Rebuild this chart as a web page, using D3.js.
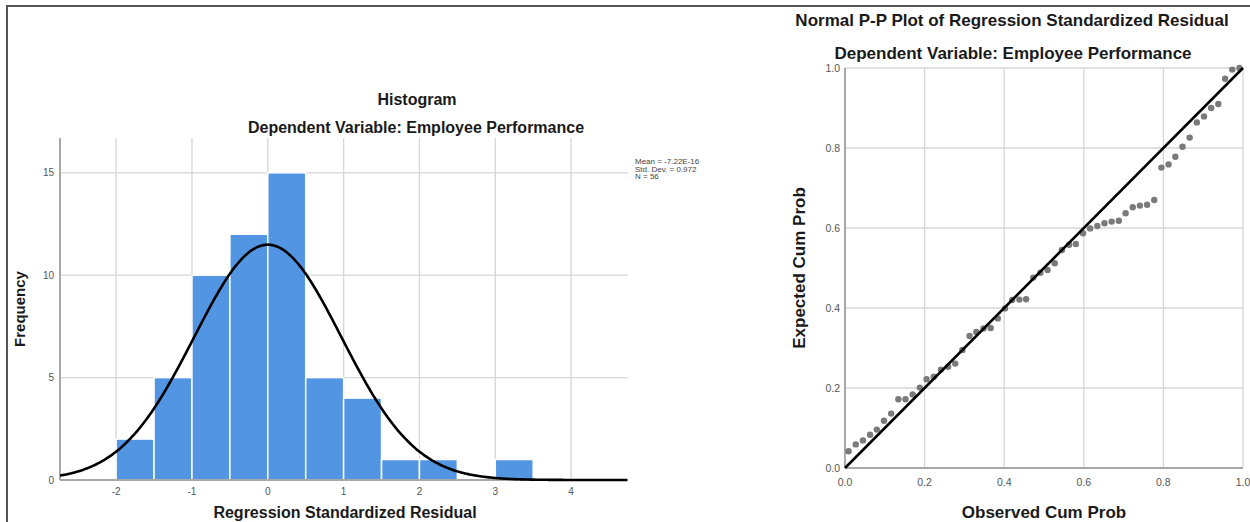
<!DOCTYPE html>
<html>
<head>
<meta charset="utf-8">
<script src="https://cdn.jsdelivr.net/npm/d3@7"></script>
<style>
  body { margin: 0; background: #fff; }
  svg { display: block; font-family: Arial, "Liberation Sans", sans-serif; }
</style>
</head>
<body>
<div id="chart"></div>
<script>
// histogram bins (width 0.5)
var binStarts = [-2, -1.5, -1, -0.5, 0, 0.5, 1, 1.5, 2, 3];
var binCounts = [2, 5, 10, 12, 15, 5, 4, 1, 1, 1];
var binWidth = 0.5;
var residMean = -7.22e-16;
var residSd = 0.972;
var residN = 56;
var histXTicks = [-2, -1, 0, 1, 2, 3, 4];
var histYTicks = [0, 5, 10, 15];
var statLines = ["Mean = -7.22E-16", "Std. Dev. = 0.972", "N = 56"];

// P-P plot points
var ppObserved = [0.009, 0.027, 0.045, 0.063, 0.080, 0.098, 0.116, 0.134, 0.152, 0.170,
                  0.188, 0.205, 0.223, 0.241, 0.259, 0.277, 0.295, 0.313, 0.330, 0.348,
                  0.366, 0.384, 0.402, 0.420, 0.438, 0.455, 0.473, 0.491, 0.509, 0.527,
                  0.545, 0.563, 0.580, 0.598, 0.616, 0.634, 0.652, 0.670, 0.688, 0.705,
                  0.723, 0.741, 0.759, 0.777, 0.795, 0.813, 0.830, 0.848, 0.866, 0.884,
                  0.902, 0.920, 0.938, 0.955, 0.973, 0.991];
var ppExpected = [0.042, 0.059, 0.069, 0.083, 0.096, 0.118, 0.136, 0.172, 0.172, 0.184,
                  0.201, 0.222, 0.228, 0.246, 0.253, 0.261, 0.295, 0.330, 0.340, 0.349,
                  0.350, 0.374, 0.399, 0.420, 0.421, 0.422, 0.476, 0.488, 0.495, 0.512,
                  0.545, 0.558, 0.560, 0.587, 0.599, 0.605, 0.612, 0.616, 0.618, 0.637,
                  0.652, 0.656, 0.658, 0.670, 0.751, 0.759, 0.778, 0.803, 0.826, 0.864,
                  0.879, 0.900, 0.910, 0.973, 0.996, 1.000];
var ppTicks = [0, 0.2, 0.4, 0.6, 0.8, 1.0];

var width = 1250, height = 522;
var GRID = '#d6d6d6', AXIS = '#a8a8a8', TICK = '#555', TITLE = '#1a1a1a';

var svg = d3.select('#chart').append('svg')
    .attr('width', width)
    .attr('height', height);

// outer frame (top + left edge)
svg.append('path')
    .attr('d', 'M7,' + height + 'V6H' + width)
    .attr('fill', 'none')
    .attr('stroke', '#555')
    .attr('stroke-width', 2);

// ---------- Histogram ----------
var hx = d3.scaleLinear().domain([-2.74, 4.75]).range([60, 628]);
var hy = d3.scaleLinear().domain([0, 16.7]).range([480, 138]);
var hist = svg.append('g');

hist.selectAll('.vgrid').data(histXTicks).enter().append('line')
    .attr('x1', d => hx(d)).attr('x2', d => hx(d))
    .attr('y1', hy.range()[1]).attr('y2', hy(0))
    .attr('stroke', GRID).attr('stroke-width', 1.3);
hist.selectAll('.hgrid').data(histYTicks.slice(1)).enter().append('line')
    .attr('x1', hx.range()[0]).attr('x2', hx.range()[1])
    .attr('y1', d => hy(d)).attr('y2', d => hy(d))
    .attr('stroke', GRID).attr('stroke-width', 1.3);

hist.selectAll('rect').data(binStarts).enter().append('rect')
    .attr('x', d => hx(d))
    .attr('y', (d, i) => hy(binCounts[i]))
    .attr('width', d => hx(d + binWidth) - hx(d))
    .attr('height', (d, i) => hy(0) - hy(binCounts[i]))
    .attr('fill', '#5295e3')
    .attr('stroke', '#fff')
    .attr('stroke-width', 1.5);

// axes lines
hist.append('line')
    .attr('x1', hx.range()[0]).attr('x2', hx.range()[0])
    .attr('y1', hy.range()[1]).attr('y2', hy(0))
    .attr('stroke', AXIS).attr('stroke-width', 2);
hist.append('line')
    .attr('x1', hx.range()[0]).attr('x2', hx.range()[1])
    .attr('y1', hy(0)).attr('y2', hy(0))
    .attr('stroke', AXIS).attr('stroke-width', 2);

// normal curve from the reported mean / sd / N
var curvePts = d3.range(hx.domain()[0], hx.domain()[1] + 0.001, 0.02);
var normLine = d3.line()
    .x(d => hx(d))
    .y(d => hy(residN * binWidth * Math.exp(-0.5 * Math.pow((d - residMean) / residSd, 2)) / (residSd * Math.sqrt(2 * Math.PI))))
    .curve(d3.curveBasis);
hist.append('path')
    .attr('d', normLine(curvePts))
    .attr('fill', 'none')
    .attr('stroke', '#000')
    .attr('stroke-width', 2.6);

hist.selectAll('.xt').data(histXTicks).enter().append('text')
    .attr('x', d => hx(d)).attr('y', 495)
    .attr('text-anchor', 'middle')
    .attr('font-size', 10).attr('fill', TICK)
    .text(d => d);
hist.selectAll('.yt').data(histYTicks).enter().append('text')
    .attr('x', 54).attr('y', d => hy(d) + 3.5)
    .attr('text-anchor', 'end')
    .attr('font-size', 10).attr('fill', TICK)
    .text(d => d);

hist.selectAll('.stat').data(statLines).enter().append('text')
    .attr('x', 635).attr('y', (d, i) => 164 + i * 7.5)
    .attr('font-size', 8).attr('fill', '#444')
    .text(d => d);

hist.append('text')
    .attr('x', 417).attr('y', 105)
    .attr('text-anchor', 'middle')
    .attr('font-size', 16).attr('font-weight', 'bold').attr('fill', TITLE)
    .text('Histogram');
hist.append('text')
    .attr('x', 416).attr('y', 133)
    .attr('text-anchor', 'middle')
    .attr('font-size', 16).attr('font-weight', 'bold').attr('fill', TITLE)
    .text('Dependent Variable: Employee Performance');
hist.append('text')
    .attr('transform', 'translate(25,309) rotate(-90)')
    .attr('text-anchor', 'middle')
    .attr('font-size', 15).attr('font-weight', 'bold').attr('fill', TITLE)
    .text('Frequency');
hist.append('text')
    .attr('x', 345).attr('y', 518)
    .attr('text-anchor', 'middle')
    .attr('font-size', 16).attr('font-weight', 'bold').attr('fill', TITLE)
    .text('Regression Standardized Residual');

// ---------- P-P plot ----------
var px = d3.scaleLinear().domain([0, 1]).range([845, 1243]);
var py = d3.scaleLinear().domain([0, 1]).range([468, 68]);
var pp = svg.append('g');

pp.selectAll('.vgrid').data(ppTicks.slice(1)).enter().append('line')
    .attr('x1', d => px(d)).attr('x2', d => px(d))
    .attr('y1', py(1)).attr('y2', py(0))
    .attr('stroke', GRID).attr('stroke-width', 1.3);
pp.selectAll('.hgrid').data(ppTicks.slice(1)).enter().append('line')
    .attr('x1', px(0)).attr('x2', px(1))
    .attr('y1', d => py(d)).attr('y2', d => py(d))
    .attr('stroke', GRID).attr('stroke-width', 1.3);

pp.append('line')
    .attr('x1', px(0)).attr('x2', px(0))
    .attr('y1', py(1)).attr('y2', py(0))
    .attr('stroke', AXIS).attr('stroke-width', 2);
pp.append('line')
    .attr('x1', px(0)).attr('x2', px(1))
    .attr('y1', py(0)).attr('y2', py(0))
    .attr('stroke', AXIS).attr('stroke-width', 2);

pp.selectAll('circle').data(ppObserved).enter().append('circle')
    .attr('cx', d => px(d))
    .attr('cy', (d, i) => py(ppExpected[i]))
    .attr('r', 3.2)
    .attr('fill', '#7a7a7a');

pp.append('line')
    .attr('x1', px(0)).attr('y1', py(0))
    .attr('x2', px(1)).attr('y2', py(1))
    .attr('stroke', '#000').attr('stroke-width', 2.6);

pp.selectAll('.xt').data(ppTicks).enter().append('text')
    .attr('x', d => px(d)).attr('y', 486)
    .attr('text-anchor', 'middle')
    .attr('font-size', 10.5).attr('fill', TICK)
    .text(d => d.toFixed(1));
pp.selectAll('.yt').data(ppTicks).enter().append('text')
    .attr('x', 840).attr('y', d => py(d) + 4)
    .attr('text-anchor', 'end')
    .attr('font-size', 10.5).attr('fill', TICK)
    .text(d => d.toFixed(1));

pp.append('text')
    .attr('x', 1012).attr('y', 26)
    .attr('text-anchor', 'middle')
    .attr('font-size', 17).attr('font-weight', 'bold').attr('fill', TITLE)
    .text('Normal P-P Plot of Regression Standardized Residual');
pp.append('text')
    .attr('x', 1013).attr('y', 59)
    .attr('text-anchor', 'middle')
    .attr('font-size', 17).attr('font-weight', 'bold').attr('fill', TITLE)
    .text('Dependent Variable: Employee Performance');
pp.append('text')
    .attr('transform', 'translate(805,268) rotate(-90)')
    .attr('text-anchor', 'middle')
    .attr('font-size', 17).attr('font-weight', 'bold').attr('fill', TITLE)
    .text('Expected Cum Prob');
pp.append('text')
    .attr('x', 1044).attr('y', 518)
    .attr('text-anchor', 'middle')
    .attr('font-size', 17).attr('font-weight', 'bold').attr('fill', TITLE)
    .text('Observed Cum Prob');
</script>
</body>
</html>
